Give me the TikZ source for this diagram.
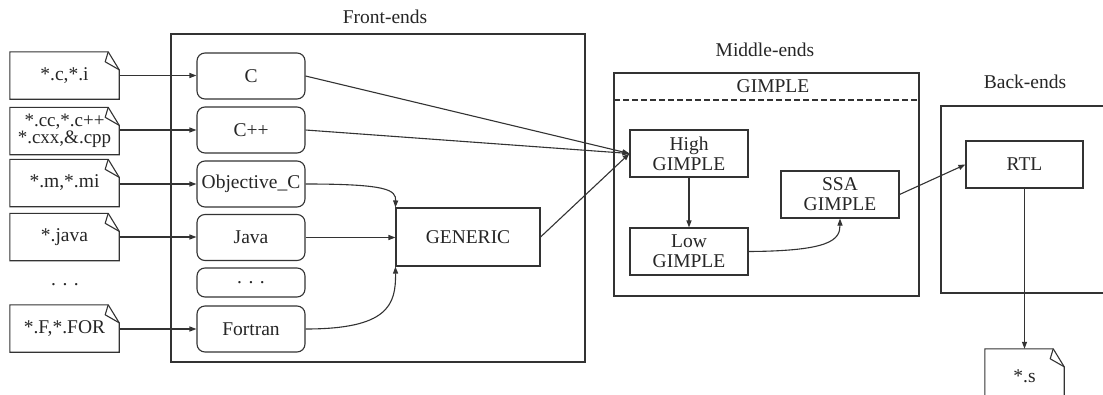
\documentclass[tikz,border=0pt]{standalone}
\usepackage{fontspec}
\setmainfont{Liberation Serif}
\usetikzlibrary{arrows.meta}
\newcommand\docoutline[1]{%
  \draw[ln] (#1.south west) -- (#1.north west) -- ([xshift=-11pt]#1.north east)
     -- ([yshift=-18pt]#1.north east) -- (#1.south east) -- cycle;
  \draw[ln,line join=round] ([xshift=-11pt]#1.north east) -- ([xshift=-14pt,yshift=-10pt]#1.north east)
     -- ([yshift=-18pt]#1.north east);}
\begin{document}
\begin{tikzpicture}[x=1pt,y=-1pt,
  every node/.style={font=\fontsize{19.5}{20}\selectfont, inner sep=0pt, text=black!85},
  ln/.style={line width=1.1pt, draw=black!80},
  filebox/.style={minimum width=109pt, minimum height=47pt, align=center},
  fe/.style={ln, rounded corners=8pt, minimum width=108pt, minimum height=46pt},
  bx/.style={ln, minimum width=118pt, minimum height=47pt, align=center},
  frame/.style={ln},
  lbl/.style={},
  arr/.style={ln, -{Triangle[length=7pt,width=5pt]}},
]
\useasboundingbox (0,0) rectangle (1103,394);
\clip (0,0) rectangle (1103,394);
\fill[white] (0,0) rectangle (1103,394);

% frames
\node[frame, minimum width=414pt, minimum height=328pt] (fbox) at (378,198) {};
\node[lbl] (flbl) at (385,17) {Front-ends};
\node[frame, minimum width=305pt, minimum height=223pt] (mbox) at (766.5,184.5) {};
\node[lbl] (mlbl) at (765,50) {Middle-ends};
\node[lbl] (glbl) at (773,86) {GIMPLE};
\coordinate (dl) at (614,100);
\coordinate (dr) at (919,100);
\draw[ln, dashed, dash pattern=on 6pt off 3pt] (dl) -- (dr);
\node[frame, minimum width=184pt, minimum height=187pt] (bbox) at (1033,199.5) {};
\node[lbl] (blbl) at (1025,82) {Back-ends};

% source files
\node[filebox] (f1) at (64.5,75.5) {*.c,*.i};
\node[filebox, font=\fontsize{19}{17}\selectfont] (f2) at (64.5,131) {*.cc,*.c++\\*.cxx,\&.cpp};
\node[filebox] (f3) at (64.5,183) {*.m,*.mi};
\node[filebox] (f4) at (64.5,237) {*.java};
\node[lbl] (fd) at (65,285) {.\,\,.\,\,.};
\node[filebox] (f5) at (64.5,328.5) {*.F,*.FOR};
\docoutline{f1}\docoutline{f2}\docoutline{f3}\docoutline{f4}\docoutline{f5}

% front ends
\node[fe] (c) at (251,76) {C};
\node[fe] (cpp) at (251,130) {C++};
\node[fe] (objc) at (251,184) {Objective\_C};
\node[fe] (java) at (251,237.5) {Java};
\node[fe, minimum height=29pt] (fdots) at (251,282.5) {.\,\,.\,\,.};
\node[fe] (fort) at (251,329) {Fortran};
\node[ln, minimum width=144pt, minimum height=58pt] (gen) at (468,237) {GENERIC};

% middle
\node[bx] (high) at (689,153.5) {High\\GIMPLE};
\node[bx] (low) at (689,251.5) {Low\\GIMPLE};
\node[bx] (ssa) at (840,194.5) {SSA\\GIMPLE};

% back
\node[ln, minimum width=117pt, minimum height=47pt] (rtl) at (1024.5,164.5) {RTL};
\node[filebox, minimum width=79pt, minimum height=54pt] (s) at (1024.5,376) {*.s};
\docoutline{s}

% connectors
\draw[arr] (f1.east) -- (f1.east -| c.west);
\draw[arr] (f2.east |- cpp.west) -- (cpp.west);
\draw[arr] (f3.east |- objc.west) -- (objc.west);
\draw[arr] (f4.east) -- (f4.east -| java.west);
\draw[arr] (f5.east |- fort.west) -- (fort.west);

\draw[arr] (c.east) -- (high.west);
\draw[arr] (cpp.east) -- (high.west);
\draw[arr] (gen.east) -- (high.west);
\draw[arr] (objc.east) .. controls (388,184) and (396,190) .. (gen.north west);
\draw[arr] (java.east) -- (java.east -| gen.west);
\draw[arr] (fort.east) .. controls (388,329) and (396,305) .. (gen.south west);

\draw[arr] (high.south) -- (low.north);
\draw[arr] (low.east) .. controls (830,251) and (840,240) .. (ssa.south);
\draw[arr] (ssa.east) -- (rtl.west);
\draw[arr] (rtl.south) -- (s.north -| rtl.south);
\end{tikzpicture}
\end{document}
